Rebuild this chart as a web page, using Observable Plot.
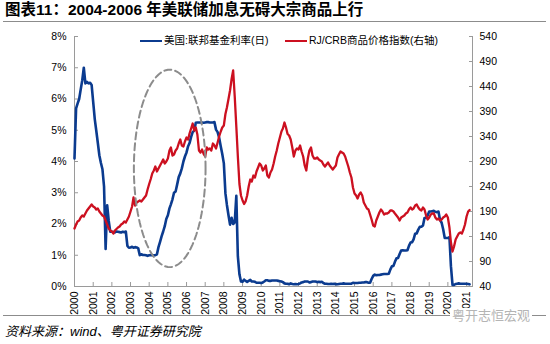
<!DOCTYPE html>
<html><head><meta charset="utf-8">
<script src="https://cdn.jsdelivr.net/npm/d3@7"></script>
<script src="https://cdn.jsdelivr.net/npm/@observablehq/plot@0.6"></script>
<style>
body{margin:0;background:#fff;}
#wrap{position:relative;width:550px;height:344px;overflow:hidden;font-family:"Liberation Sans","Noto Sans CJK SC",sans-serif;color:#000;}
#title{position:absolute;left:5px;top:0;font-size:15.5px;font-weight:bold;line-height:20px;white-space:nowrap;}
#tline{position:absolute;left:3px;width:543px;top:21px;height:1px;background:#8c8c8c;}
#chart{position:absolute;left:0;top:23px;}
.leg{position:absolute;top:34px;font-size:10.5px;line-height:13px;white-space:nowrap;}
.sw{position:absolute;top:39.5px;height:2.5px;width:22px;}
#bline{position:absolute;left:3px;width:543px;top:315px;height:1px;background:#8c8c8c;}
#src{position:absolute;left:5px;top:324px;font-size:13px;line-height:16px;font-style:italic;white-space:nowrap;}
#wm{position:absolute;left:450px;top:308px;font-size:13px;line-height:16px;color:#b4b4b4;background:#fff;padding:0 2px;white-space:nowrap;}
</style></head>
<body>
<div id="wrap">
  <div id="title">图表11：2004-2006 年美联储加息无碍大宗商品上行</div>
  <div id="tline"></div>
  <div id="chart"></div>
  <div class="sw" style="left:140px;background:#0b3b8f"></div>
  <div class="leg" style="left:164px">美国:联邦基金利率(日)</div>
  <div class="sw" style="left:285px;background:#cc1020"></div>
  <div class="leg" style="left:309px">RJ/CRB商品价格指数(右轴)</div>
  <div id="bline"></div>
  <div id="wm">粤开志恒宏观</div>
  <div id="src">资料来源：wind、粤开证券研究院</div>
</div>
<script>
// ---- data (monthly, Jan 2000 – Mar 2021) ----
const yearLabels = [2000,2001,2002,2003,2004,2005,2006,2007,2008,2009,2010,2011,2012,2013,2014,2015,2016,2017,2018,2019,2020,2021];
const leftTicks = [0,1,2,3,4,5,6,7,8];
const rightTicks = [40,90,140,190,240,290,340,390,440,490,540];

// 美国:联邦基金利率(日), %
const fedValues = [
  4.1, 5.7, 5.85, 6.0, 6.3, 6.6, 7.0, 6.5, 6.55, 6.5, 6.52, 6.45,
  5.9, 5.35, 5.0, 4.6, 4.2, 3.95, 3.75, 3.2, 1.2, 2.6, 2.1, 1.75,
  1.75, 1.74, 1.73, 1.76, 1.75, 1.74, 1.73, 1.75, 1.74, 1.76, 1.3, 1.24,
  1.25, 1.27, 1.24, 1.26, 1.25, 1.22, 1.0, 1.03, 1.01, 1.01, 1.0, 0.98,
  1.0, 1.01, 1.0, 1.0, 1.0, 1.03, 1.26, 1.43, 1.61, 1.76, 1.93, 2.16,
  2.28, 2.5, 2.63, 2.79, 3.0, 3.04, 3.26, 3.5, 3.62, 3.78, 4.0, 4.16,
  4.29, 4.49, 4.59, 4.79, 4.94, 4.99, 5.24, 5.25, 5.25, 5.25, 5.25, 5.24,
  5.25, 5.26, 5.26, 5.25, 5.25, 5.25, 5.26, 5.02, 4.94, 4.76, 4.49, 4.24,
  3.94, 2.98, 2.61, 2.28, 1.98, 2.2, 2.0, 2.05, 2.9, 0.97, 0.39, 0.16,
  0.15, 0.22, 0.18, 0.15, 0.18, 0.21, 0.16, 0.16, 0.15, 0.12, 0.12, 0.12,
  0.11, 0.13, 0.16, 0.2, 0.2, 0.18, 0.18, 0.19, 0.19, 0.19, 0.19, 0.18,
  0.17, 0.16, 0.14, 0.1, 0.09, 0.09, 0.07, 0.1, 0.08, 0.07, 0.08, 0.07,
  0.08, 0.1, 0.13, 0.14, 0.16, 0.16, 0.16, 0.13, 0.14, 0.16, 0.16, 0.16,
  0.14, 0.15, 0.14, 0.15, 0.11, 0.09, 0.09, 0.08, 0.08, 0.09, 0.08, 0.09,
  0.07, 0.07, 0.08, 0.09, 0.09, 0.1, 0.09, 0.09, 0.09, 0.09, 0.09, 0.12,
  0.11, 0.11, 0.11, 0.12, 0.12, 0.13, 0.13, 0.14, 0.14, 0.12, 0.12, 0.24,
  0.34, 0.38, 0.36, 0.37, 0.37, 0.38, 0.39, 0.4, 0.4, 0.4, 0.41, 0.54,
  0.65, 0.66, 0.79, 0.9, 0.91, 1.04, 1.15, 1.16, 1.15, 1.15, 1.16, 1.3,
  1.41, 1.42, 1.51, 1.69, 1.7, 1.82, 1.91, 1.91, 1.95, 2.19, 2.2, 2.27,
  2.4, 2.4, 2.41, 2.42, 2.39, 2.38, 2.4, 2.13, 2.04, 1.83, 1.55, 1.55,
  1.55, 1.58, 0.65, 0.05, 0.05, 0.08, 0.09, 0.1, 0.09, 0.09, 0.09, 0.09,
  0.09, 0.08, 0.07
];

// RJ/CRB商品价格指数 (右轴)
const crbValues = [
  156, 164, 170, 172, 178, 182, 180, 186, 192, 196, 200, 204,
  200, 198, 194, 196, 190, 186, 182, 180, 172, 164, 156, 152,
  150, 146, 152, 155, 158, 160, 164, 166, 170, 168, 174, 180,
  190, 200, 218, 202, 208, 210, 212, 210, 214, 218, 222, 234,
  245, 255, 266, 272, 280, 270, 276, 282, 288, 294, 286, 290,
  296, 312, 318, 302, 304, 312, 316, 326, 334, 322, 320, 330,
  338, 334, 346, 356, 366, 352, 358, 344, 312, 308, 314, 305,
  300, 318, 314, 316, 312, 326, 322, 316, 328, 340, 350, 358,
  362, 385, 398, 415, 432, 455, 472, 420, 360, 300, 245, 222,
  212, 205, 210, 222, 240, 254, 250, 262, 258, 270, 278, 286,
  282, 272, 276, 282, 262, 258, 268, 274, 286, 300, 312, 326,
  338, 350, 356, 368, 358, 345, 342, 334, 318, 300, 312, 316,
  314, 322, 310, 300, 282, 272, 296, 312, 318, 302, 296, 296,
  298, 294, 292, 290, 284, 280, 284, 288, 282, 278, 274, 278,
  282, 298, 304, 310, 308, 306, 300, 290, 280, 268, 258, 238,
  226, 222, 216, 224, 228, 222, 208, 202, 196, 194, 184, 174,
  162, 160, 172, 180, 188, 194, 190, 184, 186, 186, 188, 192,
  192, 190, 186, 182, 178, 172, 178, 180, 182, 186, 188, 194,
  198, 194, 196, 202, 204, 198, 194, 192, 198, 194, 182, 174,
  178, 184, 186, 186, 178, 174, 176, 172, 174, 178, 180, 184,
  178, 158, 128, 110, 120, 134, 140, 146, 148, 146, 154, 164,
  180, 190, 193
];

// annotation: dashed ellipse around 2004-2006
const ellipseCenter = {date: "2005-02-06", value: 3.78};
const ellipseRadius = {years: 1.92, value: 3.16};

// ---- derived ----
const months = fedValues.map((_, i) => new Date(Date.UTC(2000, i, 1)));
const xDomain = [new Date(Date.UTC(2000, 0, 1)), new Date(Date.UTC(2021, 3, 27))];
const toLeft = v => (v - 40) / 62.5;            // right-axis value -> left scale
const yearDates = yearLabels.map(y => new Date(Date.UTC(y, 0, 1)));
const yearMs = 365.25 * 864e5;
const c0 = +new Date(ellipseCenter.date + "T00:00:00Z");
const ellipse = d3.range(0, 361, 3).map(a => {
  const t = a * Math.PI / 180;
  return {x: new Date(c0 + Math.cos(t) * ellipseRadius.years * yearMs),
          y: ellipseCenter.value + Math.sin(t) * ellipseRadius.value};
});

const axisGray = "#9a9a9a";
const chart = Plot.plot({
  width: 550, height: 292,
  marginLeft: 74, marginRight: 78, marginTop: 13, marginBottom: 29,
  x: {type: "utc", domain: xDomain},
  y: {domain: [0, 8]},
  style: {fontFamily: "'Liberation Sans', 'Noto Sans CJK SC', sans-serif", fontSize: "10.5px", color: "#000", background: "transparent"},
  marks: [
    // axis lines
    Plot.ruleX(xDomain, {stroke: axisGray}),
    Plot.ruleY([0], {stroke: axisGray}),
    // tick marks (inside)
    Plot.axisX({ticks: yearDates, tickSize: 4, dy: -4, tickFormat: () => "", stroke: axisGray, label: null}),
    Plot.axisY({ticks: leftTicks, tickSize: 4, dx: 4, tickFormat: () => "", stroke: axisGray, label: null}),
    Plot.axisY({anchor: "right", ticks: rightTicks.map(toLeft), tickSize: 4, dx: -4, tickFormat: () => "", stroke: axisGray, label: null}),
    // tick labels
    Plot.axisX({ticks: yearDates, tickSize: 0, tickPadding: 5, tickRotate: -90, tickFormat: d => String(d.getUTCFullYear()), label: null, fontSize: 10.5}),
    Plot.axisY({ticks: leftTicks, tickSize: 0, tickPadding: 8, tickFormat: d => d + "%", label: null, fontSize: 10.5}),
    Plot.axisY({anchor: "right", ticks: rightTicks.map(toLeft), tickSize: 0, tickPadding: 7,
                tickFormat: d => String(Math.round(40 + d * 62.5)), label: null, fontSize: 10.5}),
    // series
    Plot.line(fedValues, {x: (d, i) => months[i], y: d => d, stroke: "#0b3b8f", strokeWidth: 2.6, curve: "linear"}),
    Plot.line(crbValues, {x: (d, i) => months[i], y: d => toLeft(d), stroke: "#cc1020", strokeWidth: 2.3, curve: "linear"}),
    // annotation ellipse
    Plot.line(ellipse, {x: "x", y: "y", stroke: "#8c8c8c", strokeWidth: 2, strokeDasharray: "7,4"})
  ]
});
document.getElementById("chart").appendChild(chart);
</script>
</body></html>
